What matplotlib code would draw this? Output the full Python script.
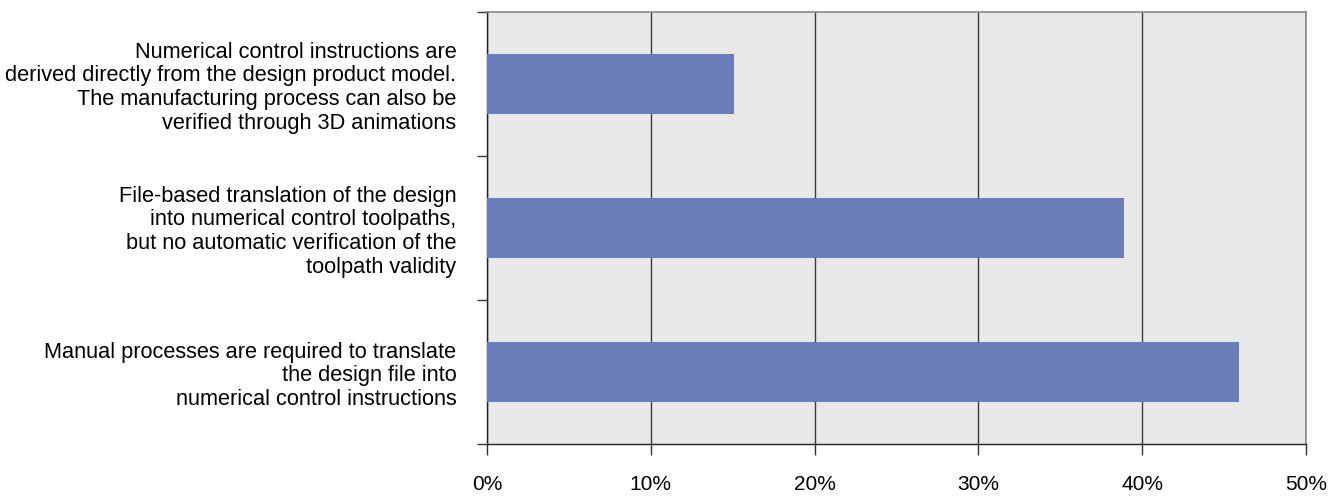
import numpy as np
import matplotlib.pyplot as plt
from matplotlib.ticker import FuncFormatter

plt.rcParams["font.family"] = ["Liberation Sans", "DejaVu Sans"]

categories = [
    "Numerical control instructions are\nderived directly from the design product model.\n"
    "The manufacturing process can also be\nverified through 3D animations",
    "File-based translation of the design\ninto numerical control toolpaths,\n"
    "but no automatic verification of the\ntoolpath validity",
    "Manual processes are required to translate\nthe design file into\n"
    "numerical control instructions",
]
shares = [15.1, 38.9, 45.9]

fig = plt.figure(figsize=(13.41, 4.97), dpi=100)
ax = fig.add_axes([0.3632, 0.1066, 0.9739 - 0.3632, 0.9759 - 0.1066])
ax.set_facecolor("#e8e8e8")

y = np.arange(len(categories))
ax.barh(y, shares, height=0.42, color="#687db9", zorder=3)

ax.set_xlim(0, 50)
ax.set_ylim(len(categories) - 0.5, -0.5)
ax.set_xticks(np.arange(0, 51, 10))
ax.xaxis.set_major_formatter(FuncFormatter(lambda v, _: f"{v:.0f}%"))
ax.grid(axis="x", color="#3a3a3a", linewidth=1.0, zorder=1)

# boundary ticks on y axis, labels at category centers
ax.set_yticks(np.arange(-0.5, len(categories), 1.0))
ax.set_yticklabels([])
ax.set_yticks(y, minor=True)
ax.set_yticklabels(categories, minor=True, ha="right", fontsize=15.7, linespacing=1.18)
ax.tick_params(axis="y", which="minor", length=0, pad=22)
ax.tick_params(axis="y", which="major", length=7, width=1, color="#333333")
ax.tick_params(axis="x", length=8, width=1, color="#333333", pad=14, labelsize=15)

for side in ("top", "right"):
    ax.spines[side].set_color("#8a8a8a")
    ax.spines[side].set_linewidth(1.2)
for side in ("left", "bottom"):
    ax.spines[side].set_color("#222222")
    ax.spines[side].set_linewidth(1.0)

fig.savefig("out.png", dpi=100)
